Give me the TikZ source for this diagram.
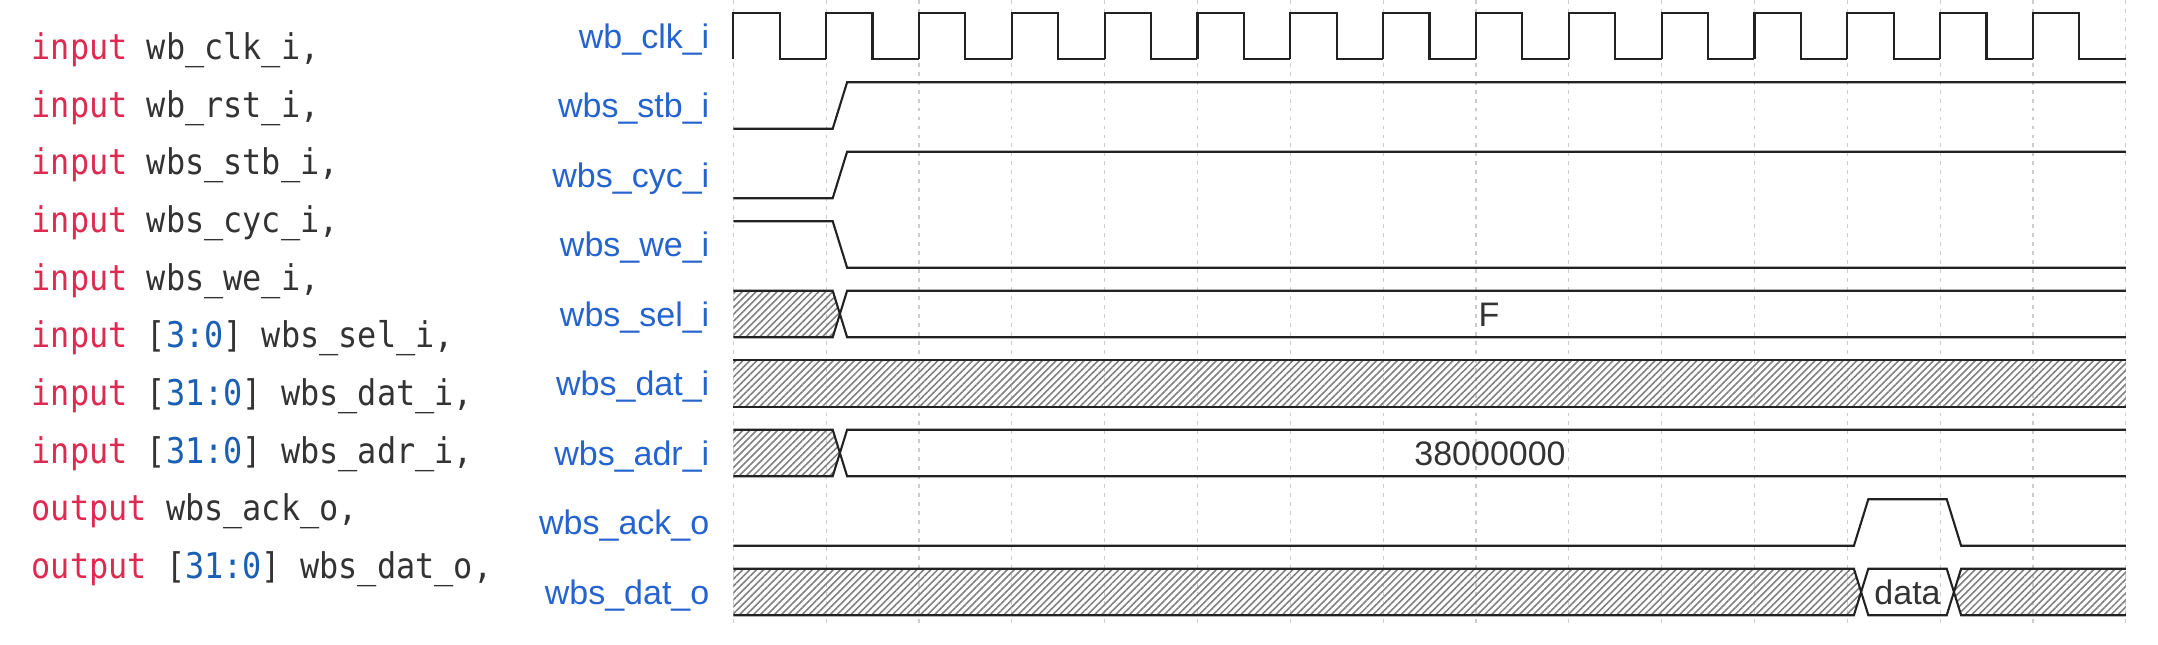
\documentclass[tikz,border=0pt]{standalone}
\usepackage{fontspec}
\setmainfont{Liberation Sans}
\setmonofont[FakeStretch=0.9]{DejaVu Sans Mono}
\usepackage{xcolor}
\usepackage{tikz}
\usetikzlibrary{patterns.meta}
\definecolor{kw}{HTML}{DE2A50}
\definecolor{num}{HTML}{1A5FB4}
\definecolor{src}{HTML}{333333}
\definecolor{lane}{HTML}{2563CF}
\definecolor{wire}{HTML}{222222}
\definecolor{faint}{HTML}{CCCCCC}
\tikzset{
  wave/.style={draw=wire,line width=0.6pt},
  hatch/.style={pattern={Lines[angle=45,distance=1.4pt,line width=0.45pt]},pattern color=black!50},
  tickline/.style={draw=faint,line width=0.35pt,dash pattern=on 1.1pt off 1.45pt},
  lanename/.style={anchor=base east,inner sep=0,text=lane,font=\fontsize{9.67pt}{11pt}\selectfont},
  busval/.style={anchor=base,inner sep=0,text=src,font=\fontsize{9.67pt}{11pt}\selectfont},
  code/.style={anchor=base west,inner sep=0,text=src,font=\ttfamily\fontsize{10.07pt}{12pt}\selectfont}
}
\begin{document}
\begin{tikzpicture}[x=0.01cm,y=-0.01cm]
\useasboundingbox (0,0) rectangle (2158,644);
\node[code] (src0) at (31,59.3) {\textcolor{kw}{input} wb\_clk\_i,};
\node[code] (src1) at (31,117) {\textcolor{kw}{input} wb\_rst\_i,};
\node[code] (src2) at (31,174.7) {\textcolor{kw}{input} wbs\_stb\_i,};
\node[code] (src3) at (31,232.4) {\textcolor{kw}{input} wbs\_cyc\_i,};
\node[code] (src4) at (31,290.1) {\textcolor{kw}{input} wbs\_we\_i,};
\node[code] (src5) at (31,347.8) {\textcolor{kw}{input} [\textcolor{num}{3:0}] wbs\_sel\_i,};
\node[code] (src6) at (31,405.5) {\textcolor{kw}{input} [\textcolor{num}{31:0}] wbs\_dat\_i,};
\node[code] (src7) at (31,463.2) {\textcolor{kw}{input} [\textcolor{num}{31:0}] wbs\_adr\_i,};
\node[code] (src8) at (31,520.9) {\textcolor{kw}{output} wbs\_ack\_o,};
\node[code] (src9) at (31,578.6) {\textcolor{kw}{output} [\textcolor{num}{31:0}] wbs\_dat\_o,};
\foreach \n/\t in {0/wb\_clk\_i,1/wbs\_stb\_i,2/wbs\_cyc\_i,3/wbs\_we\_i,4/wbs\_sel\_i,
                   5/wbs\_dat\_i,6/wbs\_adr\_i,7/wbs\_ack\_o,8/wbs\_dat\_o}
  \node[lanename] (lane\n) at (710,{48+69.5*\n}) {\t};
\foreach \i in {0,...,15}
  \draw[tickline] ({733.3+92.83*\i},0) -- ({733.3+92.83*\i},625);
\foreach \i in {0,...,14}
  \draw[wave] ({733.3+92.83*\i},59.3) |- ({733.3+92.83*\i+46.4},12.7) |- ({733.3+92.83*\i+92.83},59.3);
\draw[wave] (733.3,128.7) -- (832.7,128.7) -- (847.1,82.2) -- (2125.75,82.2);
\draw[wave] (733.3,198.2) -- (832.7,198.2) -- (847.1,151.7) -- (2125.75,151.7);
\draw[wave] (733.3,221.2) -- (832.7,221.2) -- (847.1,267.7) -- (2125.75,267.7);
\fill[hatch] (733.3,290.7) -- (832.7,290.7) -- (839.9,313.95) -- (832.7,337.2) -- (733.3,337.2) -- cycle;
\draw[wave] (733.3,290.7) -- (832.7,290.7) -- (847.1,337.2) -- (2125.75,337.2);
\draw[wave] (733.3,337.2) -- (832.7,337.2) -- (847.1,290.7) -- (2125.75,290.7);
\node[busval] (selval) at (1489,326.95) {F};
\fill[hatch] (733.3,360.2) rectangle (2125.75,406.7);
\draw[wave] (733.3,360.2) -- (2125.75,360.2);
\draw[wave] (733.3,406.7) -- (2125.75,406.7);
\fill[hatch] (733.3,429.7) -- (832.7,429.7) -- (839.9,452.95) -- (832.7,476.2) -- (733.3,476.2) -- cycle;
\draw[wave] (733.3,429.7) -- (832.7,429.7) -- (847.1,476.2) -- (2125.75,476.2);
\draw[wave] (733.3,476.2) -- (832.7,476.2) -- (847.1,429.7) -- (2125.75,429.7);
\node[busval] (adrval) at (1490,465.95) {38000000};
\draw[wave] (733.3,545.7) -- (1853.9,545.7) -- (1868.3,499.2) -- (1946.7,499.2) -- (1961.1,545.7) -- (2125.75,545.7);
\fill[hatch] (733.3,568.7) -- (1853.9,568.7) -- (1861.1,591.95) -- (1853.9,615.2) -- (733.3,615.2) -- cycle;
\fill[hatch] (2125.75,568.7) -- (1961.1,568.7) -- (1953.9,591.95) -- (1961.1,615.2) -- (2125.75,615.2) -- cycle;
\draw[wave] (733.3,568.7) -- (1853.9,568.7) -- (1868.3,615.2) -- (1946.7,615.2) -- (1961.1,568.7) -- (2125.75,568.7);
\draw[wave] (733.3,615.2) -- (1853.9,615.2) -- (1868.3,568.7) -- (1946.7,568.7) -- (1961.1,615.2) -- (2125.75,615.2);
\node[busval] (datval) at (1907.5,604.95) {data};
\end{tikzpicture}
\end{document}
